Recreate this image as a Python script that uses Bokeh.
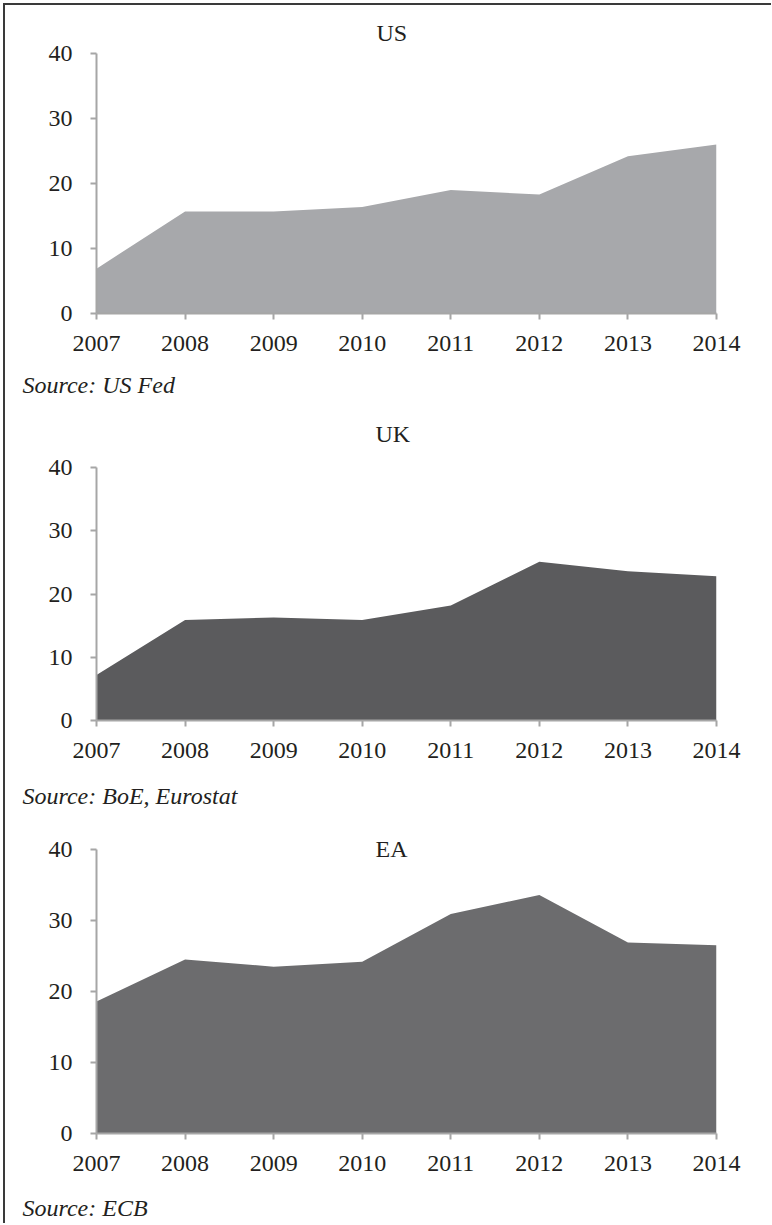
from bokeh.plotting import figure
from bokeh.models import Range1d, FixedTicker, Title
from bokeh.layouts import column
from bokeh.embed import file_html
from bokeh.resources import INLINE

years = [2007, 2008, 2009, 2010, 2011, 2012, 2013, 2014]
us_values = [6.9, 15.7, 15.7, 16.4, 19.0, 18.3, 24.2, 26.0]
uk_values = [7.2, 15.9, 16.3, 15.9, 18.2, 25.1, 23.6, 22.8]
ea_values = [18.6, 24.5, 23.5, 24.2, 30.9, 33.6, 26.9, 26.5]
y_ticks = [0, 10, 20, 30, 40]
panel_titles = ["US", "UK", "EA"]
sources = ["Source: US Fed", "Source: BoE, Eurostat", "Source: ECB"]
fills = ["#a7a8ab", "#5b5b5d", "#6c6c6e"]

FONT = "Liberation Serif"
TXT = "#231f20"
AX = "#a6a6a6"


def base_panel(values, color, top, frame_h, bottom):
    p = figure(frame_width=620, frame_height=frame_h,
               min_border_left=91, min_border_right=55,
               min_border_top=top, min_border_bottom=bottom,
               x_range=Range1d(years[0], years[-1]),
               y_range=Range1d(y_ticks[0], y_ticks[-1]),
               output_backend="svg", toolbar_location=None)
    p.varea(x=years, y1=0, y2=values, fill_color=color)
    p.grid.visible = False
    p.outline_line_color = None
    p.background_fill_color = "white"
    p.border_fill_color = "white"

    p.xaxis.ticker = FixedTicker(ticks=years)
    p.yaxis.ticker = FixedTicker(ticks=y_ticks)
    p.xaxis.major_label_overrides = {y: str(y) for y in years}
    for ax in (p.xaxis, p.yaxis):
        ax.axis_line_color = AX
        ax.axis_line_width = 2
        ax.major_tick_line_color = AX
        ax.major_tick_line_width = 2
        ax.major_tick_in = 0
        ax.major_tick_out = 6
        ax.minor_tick_line_color = None
        ax.major_label_text_font = FONT
        ax.major_label_text_font_size = "24px"
        ax.major_label_text_color = TXT
    p.xaxis.major_label_standoff = 16
    p.yaxis.major_label_standoff = 18
    return p


def title(text, offset, standoff, valign, italic=False):
    return Title(text=text, align="left", offset=offset, standoff=standoff,
                 vertical_align=valign, text_font=FONT,
                 text_font_size="24px",
                 text_font_style="italic" if italic else "normal",
                 text_color=TXT)


def spacer(p, gap):
    p.xaxis.axis_label = " "
    p.xaxis.axis_label_text_font_size = "1px"
    p.xaxis.axis_label_standoff = gap


# Panel 1 (US)
p1 = base_panel(us_values, fills[0], 48, 260, 140)
p1.add_layout(title(panel_titles[0], 280, 16, "bottom"), "above")
p1.add_layout(title(sources[0], -74, 37, "top", italic=True), "below")
p1.add_layout(title(panel_titles[1], 279, 5, "top"), "below")

# Panel 2 (UK)
p2 = base_panel(uk_values, fills[1], 14, 253, 100)
spacer(p2, 18)
p2.add_layout(title(sources[1], -74, 0, "top", italic=True), "below")

# Panel 3 (EA)
p3 = base_panel(ea_values, fills[2], 29, 284, 90)
p3.add_layout(title(panel_titles[2], 279, -24, "bottom"), "above")
spacer(p3, 17)
p3.add_layout(title(sources[2], -74, 0, "top", italic=True), "below")

layout = column(p1, p2, p3, spacing=0, margin=(3, 0, 0, 3),
                styles={"border-top": "2px solid #3a3a3a",
                        "border-left": "2px solid #3a3a3a"})

open("out.html", "w").write(file_html(layout, INLINE))
